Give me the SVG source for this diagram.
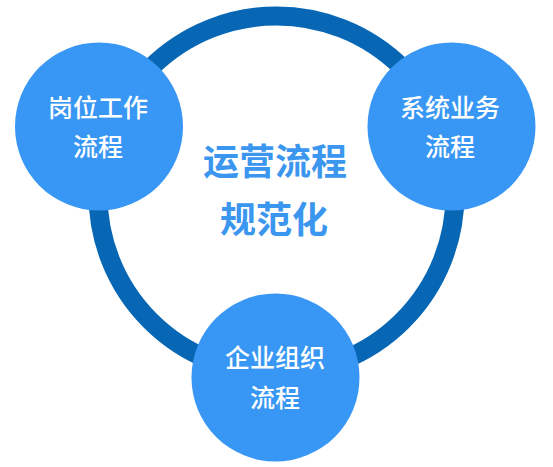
<svg xmlns="http://www.w3.org/2000/svg" width="553" height="467" viewBox="0 0 553 467">
<style>
.node{fill:#3897f4}
.lbl{font-family:"Noto Sans CJK SC","Noto Sans",sans-serif;font-size:25px;fill:#ffffff;text-anchor:middle;font-weight:500}
.title{font-family:"Noto Sans CJK SC","Noto Sans",sans-serif;font-size:36px;fill:#3a96ee;text-anchor:middle;font-weight:700}
</style>
<rect width="553" height="467" fill="#ffffff"/>
<g id="connectors">
<circle cx="276.5" cy="194.5" r="178.5" fill="none" stroke="#0767b4" stroke-width="19"/>
</g>
<g id="center">
<text class="title" x="275" y="175">运营流程</text>
<text class="title" x="274" y="233">规范化</text>
</g>
<g id="node-left">
<circle class="node" cx="99" cy="126.5" r="84"/>
<text class="lbl" x="98" y="117">岗位工作</text>
<text class="lbl" x="98" y="156">流程</text>
</g>
<g id="node-right">
<circle class="node" cx="451.5" cy="126.5" r="84"/>
<text class="lbl" x="450" y="117">系统业务</text>
<text class="lbl" x="450" y="156">流程</text>
</g>
<g id="node-bottom">
<circle class="node" cx="275.5" cy="377.5" r="84"/>
<text class="lbl" x="275" y="367">企业组织</text>
<text class="lbl" x="275" y="407">流程</text>
</g>
</svg>
